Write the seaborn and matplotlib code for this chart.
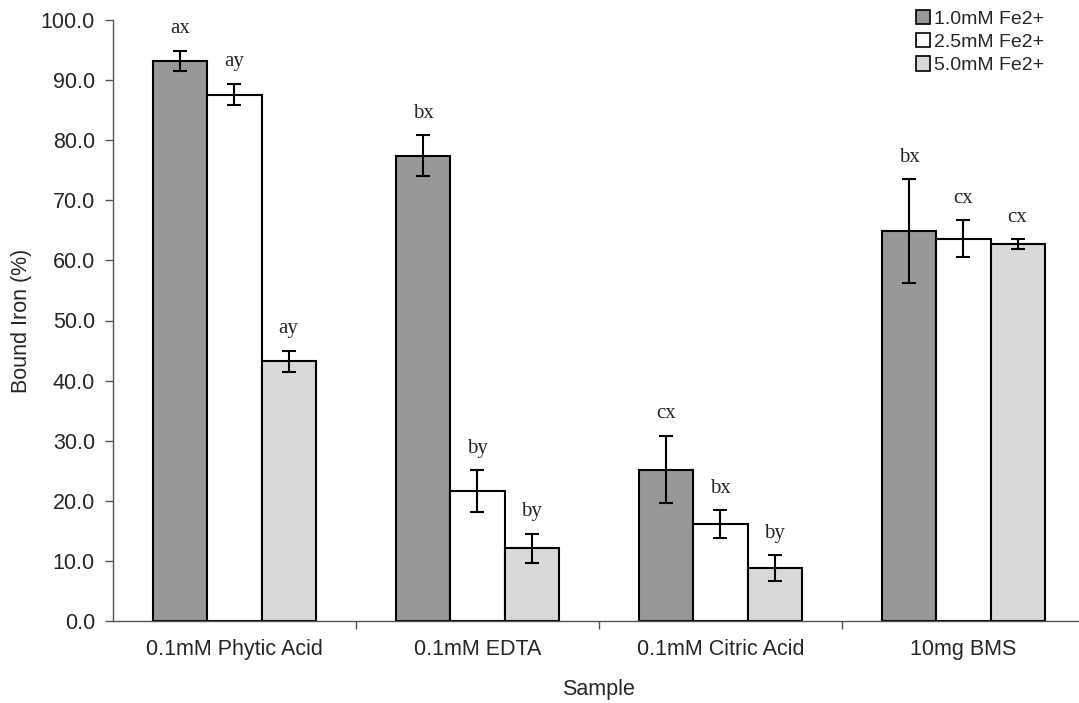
import matplotlib
matplotlib.use("Agg")
import matplotlib.pyplot as plt
import seaborn as sns
import pandas as pd
import numpy as np
from matplotlib.patches import Patch

categories = ["0.1mM Phytic Acid", "0.1mM EDTA", "0.1mM Citric Acid", "10mg BMS"]
series = ["1.0mM Fe2+", "2.5mM Fe2+", "5.0mM Fe2+"]
vals_10 = [93.2, 77.4, 25.2, 64.9]
vals_25 = [87.6, 21.6, 16.1, 63.6]
vals_50 = [43.2, 12.1, 8.8, 62.7]
err_10 = [1.7, 3.4, 5.6, 8.6]
err_25 = [1.8, 3.5, 2.3, 3.1]
err_50 = [1.8, 2.4, 2.1, 0.8]
letters_10 = ["ax", "bx", "cx", "bx"]
letters_25 = ["ay", "by", "bx", "cx"]
letters_50 = ["ay", "by", "by", "cx"]
yticks = [0, 10, 20, 30, 40, 50, 60, 70, 80, 90, 100]

colors = ["#989898", "#ffffff", "#d9d9d9"]

sns.set_style("white")
plt.rcParams['font.family'] = ['Liberation Sans', 'DejaVu Sans']

vals = [vals_10, vals_25, vals_50]
errs = [err_10, err_25, err_50]
letters = [letters_10, letters_25, letters_50]

rows = []
for s, v in zip(series, vals):
    for c, x in zip(categories, v):
        rows.append({"Sample": c, "Series": s, "Value": x})
df = pd.DataFrame(rows)

fig = plt.figure(figsize=(10.79, 7.03), dpi=100)
ax = fig.add_axes([113 / 1079, 82 / 703, 972 / 1079, 601 / 703])

sns.barplot(data=df, x="Sample", y="Value", hue="Series", order=categories,
            hue_order=series, palette=colors, width=0.667, errorbar=None,
            edgecolor="black", linewidth=1.5, saturation=1, ax=ax, legend=False)

for cont, e, lab in zip(ax.containers, errs, letters):
    xs = [p.get_x() + p.get_width() / 2 for p in cont]
    hs = [p.get_height() for p in cont]
    ax.errorbar(xs, hs, yerr=e, fmt="none", ecolor="black", elinewidth=1.5,
                capsize=5, capthick=1.5, zorder=5)
    for x, h, ee, t in zip(xs, hs, e, lab):
        ax.annotate(t, (x, h + ee), xytext=(0, 9), textcoords="offset points",
                    ha="center", va="bottom", fontsize=15,
                    family=["Liberation Serif", "DejaVu Serif"])

ax.set_xlim(-0.5, 3.5)
ax.set_ylim(0, 100)
ax.set_yticks(yticks)
ax.set_yticklabels([f"{t:.1f}" for t in yticks])
ax.set_xticks(range(len(categories)))
ax.set_xticklabels(categories)
ax.set_xticks([0.5, 1.5, 2.5], minor=True)
ax.tick_params(axis="x", which="major", length=0, pad=13, labelsize=15.5)
ax.tick_params(axis="x", which="minor", length=6, width=1, color="#555555", bottom=True)
ax.tick_params(axis="y", which="major", length=6, width=1, color="#555555", left=True,
               labelsize=15.5, pad=7)
for sp in ["top", "right"]:
    ax.spines[sp].set_visible(False)
for sp in ["left", "bottom"]:
    ax.spines[sp].set_color("#555555")
    ax.spines[sp].set_linewidth(1)

ax.set_xlabel("Sample", fontsize=15.5, labelpad=14)
ax.set_ylabel("Bound Iron (%)", fontsize=15.5, labelpad=6)

handles = [Patch(facecolor=c, edgecolor="black", linewidth=1.2, label=s)
           for c, s in zip(colors, series)]
fig.legend(handles=handles, loc="upper right", bbox_to_anchor=(1054 / 1079, 1.0),
           bbox_transform=fig.transFigure, frameon=False, fontsize=14,
           handlelength=0.75, handleheight=0.75, handletextpad=0.2,
           labelspacing=0.28, borderaxespad=0.0, borderpad=0.5)

fig.savefig("out.png", dpi=100)
